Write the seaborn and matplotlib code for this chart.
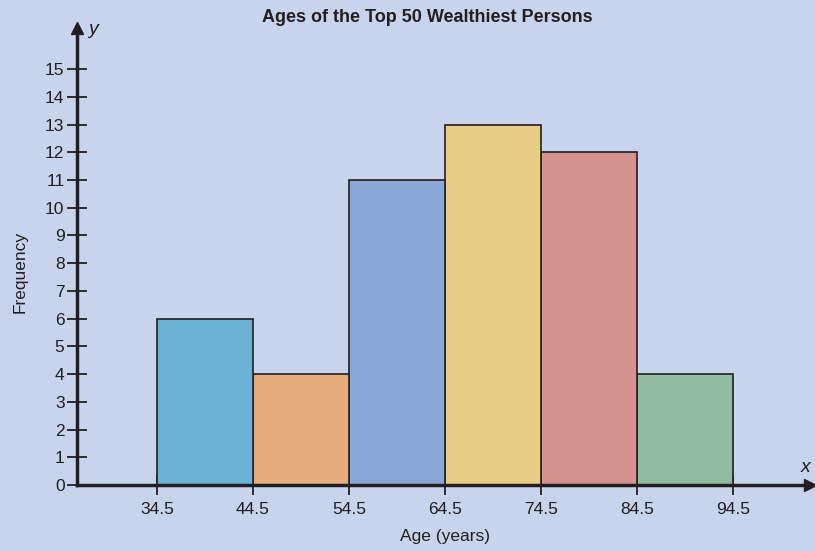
import matplotlib
matplotlib.use("Agg")
import matplotlib.pyplot as plt
import seaborn as sns
import pandas as pd

# class boundaries and frequencies
edges = [34.5, 44.5, 54.5, 64.5, 74.5, 84.5, 94.5]
freqs = [6, 4, 11, 13, 12, 4]
colors = ["#6bb3d4", "#e4ab7b", "#89a8d8", "#e8cd85", "#d6928f", "#90bca0"]
yticks = list(range(0, 16))

bg = "#c8d4ec"
ink = "#231f20"

sns.set_style("white")
plt.rcParams["font.family"] = ["Liberation Sans Narrow", "Liberation Sans", "DejaVu Sans"]

mids = [(a + b) / 2 for a, b in zip(edges[:-1], edges[1:])]
df = pd.DataFrame({"age": mids, "freq": freqs, "cls": [str(i) for i in range(len(freqs))]})

fig = plt.figure(figsize=(8.15, 5.51), dpi=100, facecolor=bg)
ax = fig.add_axes([77 / 815, 66 / 551, (810 - 77) / 815, (485 - 28) / 551])
ax.set_facecolor(bg)

sns.histplot(data=df, x="age", weights="freq", hue="cls", bins=edges,
             palette=colors, alpha=1, edgecolor=ink, linewidth=1.2,
             legend=False, ax=ax)

ax.set_xlim(26.17, 102.5)
ax.set_ylim(0, 16.48)

for s in ["top", "right"]:
    ax.spines[s].set_visible(False)
for s in ["left", "bottom"]:
    ax.spines[s].set_linewidth(2.5)
    ax.spines[s].set_color(ink)

# arrow heads
ax.plot(1, 0, ">", color=ink, markersize=9, transform=ax.transAxes, clip_on=False)
ax.plot(0, 1, "^", color=ink, markersize=9, transform=ax.transAxes, clip_on=False)

ax.set_xticks(edges)
ax.set_xticklabels([f"{e:.1f}" for e in edges])
ax.set_yticks(yticks)
ax.tick_params(axis="both", direction="inout", length=14, width=1.3, color=ink,
               labelsize=12.5, labelcolor=ink, bottom=True, left=True)
ax.tick_params(axis="x", pad=5)
ax.tick_params(axis="y", pad=2)

ax.set_xlabel("")
ax.set_ylabel("")
fig.text(445 / 815, 1 - 537 / 551, "Age (years)", ha="center", va="center",
         fontsize=12.5, color=ink)
fig.text(20 / 815, 1 - 272 / 551, "Frequency", ha="center", va="center",
         rotation=90, fontsize=12.5, color=ink)
fig.text(427 / 815, 1 - 18 / 551, "Ages of the Top 50 Wealthiest Persons",
         ha="center", va="center", fontsize=13, fontweight="bold", color=ink)
fig.text(93 / 815, 1 - 30 / 551, "y", ha="center", va="center",
         fontsize=14, style="italic", color=ink)
fig.text(806 / 815, 1 - 467 / 551, "x", ha="center", va="center",
         fontsize=14, style="italic", color=ink)

fig.savefig("out.png", dpi=100, facecolor=bg)
